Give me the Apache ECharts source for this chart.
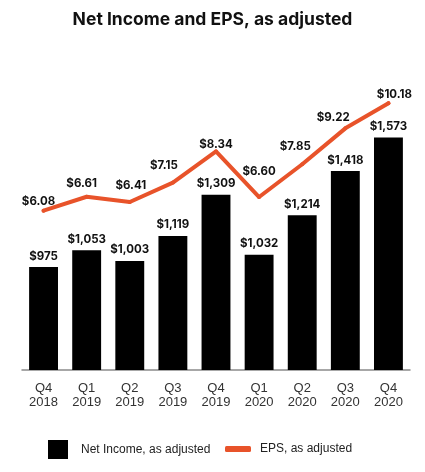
<!DOCTYPE html>
<html lang="en">
<head>
    <meta charset="UTF-8">
    <title>Net Income and EPS</title>
    <script src="https://cdn.jsdelivr.net/npm/echarts@6/dist/echarts.min.js"></script>
    <style>
        html, body { margin: 0; padding: 0; background: #fff; }
        #main { width: 425px; height: 472px; }
    </style>
</head>
<body>
<div id="main"></div>
<script type="text/javascript">
    // chart data
    var quarters = ['Q4\n2018', 'Q1\n2019', 'Q2\n2019', 'Q3\n2019', 'Q4\n2019', 'Q1\n2020', 'Q2\n2020', 'Q3\n2020', 'Q4\n2020'];
    var netIncome = [975, 1053, 1003, 1119, 1309, 1032, 1214, 1418, 1573];
    var eps = [6.08, 6.61, 6.41, 7.15, 8.34, 6.60, 7.85, 9.22, 10.18];

    // small hand nudges for the EPS labels (layout only)
    var epsLabelNudge = [[-5, 2], [-5, -2], [1, -5], [-9, -6], [0, 4], [0, -14], [-7, -7], [-12, 0], [6, 2]];

    var orange = '#E8532A';
    var labelFont = 'Inter, "Open Sans", sans-serif';
    var plainFont = '"Liberation Sans", Arial, sans-serif';

    var epsData = eps.map(function (v, i) {
        return { value: v, label: { offset: epsLabelNudge[i] } };
    });

    var myChart = echarts.init(document.getElementById('main'));
    var option = {
        backgroundColor: '#fff',
        animation: false,
        title: {
            text: 'Net Income and EPS, as adjusted',
            left: 'center',
            top: 6,
            textStyle: { fontFamily: labelFont, fontWeight: 'bold', fontSize: 17.5, color: '#111' }
        },
        legend: [
            {
                data: ['Net Income, as adjusted'],
                left: 48,
                top: 440,
                padding: 0,
                itemWidth: 20,
                itemHeight: 19,
                icon: 'rect',
                textStyle: { fontFamily: plainFont, fontSize: 12, color: '#222', padding: [0, 0, 0, 8] }
            },
            {
                data: ['EPS, as adjusted'],
                left: 225,
                top: 443,
                padding: 0,
                itemWidth: 26,
                itemHeight: 6,
                icon: 'roundRect',
                textStyle: { fontFamily: plainFont, fontSize: 12, color: '#222', padding: [0, 0, 0, 4] }
            }
        ],
        grid: { left: 22, right: 15, top: 45, bottom: 102 },
        xAxis: {
            type: 'category',
            data: quarters,
            axisLine: { lineStyle: { color: '#8a8a8a', width: 1.5 } },
            axisTick: { show: false },
            axisLabel: {
                fontFamily: plainFont,
                fontSize: 13,
                color: '#333',
                lineHeight: 14,
                margin: 11
            }
        },
        yAxis: [
            { type: 'value', min: 500, max: 2000, show: false, splitLine: { show: false } },
            { type: 'value', min: 0, max: 12.4, show: false, splitLine: { show: false } }
        ],
        series: [
            {
                name: 'Net Income, as adjusted',
                type: 'bar',
                data: netIncome,
                barWidth: '67%',
                itemStyle: { color: '#000' },
                label: {
                    show: true,
                    position: 'top',
                    distance: 5,
                    fontFamily: labelFont,
                    fontWeight: 'bold',
                    fontSize: 11.5,
                    color: '#111',
                    formatter: function (p) { return '$' + p.value.toLocaleString('en-US'); }
                }
            },
            {
                name: 'EPS, as adjusted',
                type: 'line',
                yAxisIndex: 1,
                data: epsData,
                symbol: 'circle',
                symbolSize: 4,
                itemStyle: { color: orange },
                lineStyle: { color: orange, width: 4, join: 'round', cap: 'round' },
                label: {
                    show: true,
                    position: 'top',
                    distance: 3,
                    fontFamily: labelFont,
                    fontWeight: 'bold',
                    fontSize: 11.5,
                    color: '#111',
                    formatter: function (p) { return '$' + p.value.toFixed(2); }
                }
            }
        ]
    };
    myChart.setOption(option);
</script>
</body>
</html>
